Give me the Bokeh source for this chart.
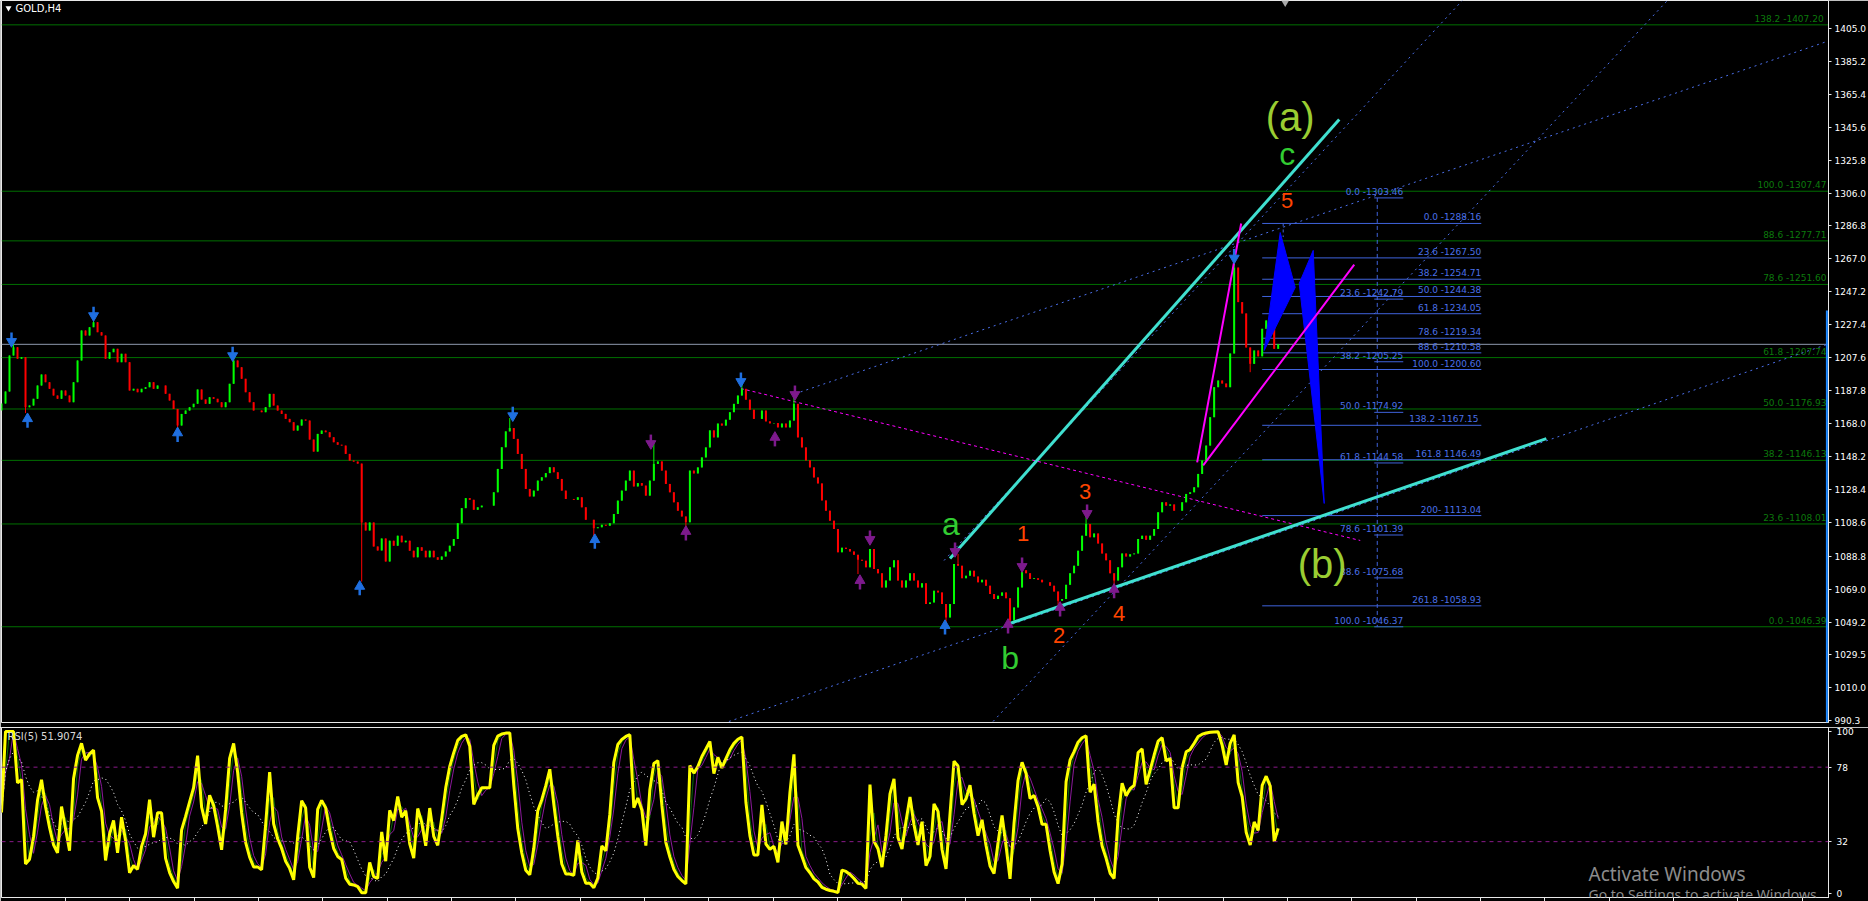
import numpy as np
import pandas as pd
from bokeh.plotting import figure
from bokeh.layouts import column
from bokeh.models import (Range1d, FixedTicker, Label, ColumnDataSource,
                          PrintfTickFormatter, CustomJSTickFormatter, Span)
from bokeh.core.properties import value
from bokeh.embed import file_html
from bokeh.resources import INLINE

# ---------------- data ----------------
symbol_title = "GOLD,H4"
rsi_title = "RSI(5) 51.9074"

# closes of the candles (one candle per 4 screen pixels)
closes = [
    1180.2, 1187.4, 1209.0, 1214.0, 1207.0, 1208.0, 1178.0, 1179.0, 1183.0, 1191.0,
    1197.6, 1193.0, 1189.0, 1185.0, 1183.0, 1188.0, 1185.0, 1181.0, 1193.0, 1206.0,
    1224.0, 1221.0, 1226.0, 1229.0, 1223.0, 1221.0, 1207.0, 1211.0, 1213.0, 1205.0,
    1210.0, 1205.0, 1188.0, 1189.0, 1187.0, 1189.0, 1190.0, 1193.0, 1189.0, 1191.0,
    1191.0, 1186.0, 1182.0, 1177.0, 1167.0, 1174.0, 1176.0, 1178.0, 1180.0, 1188.6,
    1182.6, 1180.0, 1184.0, 1183.0, 1181.0, 1178.0, 1181.0, 1192.0, 1206.0, 1202.0,
    1195.0, 1187.0, 1181.0, 1176.0, 1176.0, 1175.0, 1178.0, 1186.0, 1179.0, 1176.0,
    1174.0, 1171.0, 1169.0, 1164.0, 1167.0, 1170.6, 1170.0, 1158.6, 1151.4, 1162.0,
    1164.0, 1163.0, 1160.0, 1157.0, 1155.5, 1155.0, 1150.0, 1146.0, 1145.4, 1144.2,
    1108.9, 1104.1, 1108.9, 1094.5, 1092.1, 1099.3, 1085.5, 1098.0, 1095.0, 1101.0,
    1097.0, 1098.0, 1092.0, 1088.0, 1094.0, 1092.0, 1088.0, 1092.0, 1088.0, 1086.5,
    1088.5, 1091.5, 1095.0, 1099.0, 1108.5, 1117.5, 1123.5, 1122.5, 1116.5, 1118.0,
    1119.0, 1119.0, 1119.0, 1127.0, 1141.0, 1154.0, 1163.5, 1165.5, 1159.0, 1150.0,
    1141.0, 1129.0, 1124.5, 1128.0, 1134.0, 1136.0, 1138.5, 1142.0, 1139.0, 1135.0,
    1128.0, 1123.0, 1123.0, 1122.5, 1124.0, 1118.0, 1110.5, 1110.5, 1105.5, 1106.0,
    1107.5, 1107.0, 1108.5, 1114.0, 1122.0, 1128.0, 1134.0, 1140.0, 1130.5, 1132.5,
    1131.0, 1125.0, 1134.0, 1144.0, 1145.5, 1140.0, 1132.0, 1127.0, 1121.0, 1116.0,
    1112.5, 1109.0, 1140.0, 1138.3, 1141.9, 1147.9, 1153.9, 1164.1, 1159.9, 1168.2,
    1167.0, 1170.5, 1175.0, 1180.0, 1185.0, 1189.0, 1182.5, 1176.5, 1171.0, 1171.0,
    1176.0, 1169.5, 1168.3, 1168.5, 1165.9, 1168.2, 1165.9, 1170.0, 1180.0, 1159.9,
    1153.9, 1146.1, 1141.9, 1135.9, 1132.3, 1122.1, 1116.0, 1110.0, 1105.0, 1091.0,
    1093.8, 1093.0, 1091.5, 1089.5, 1086.5, 1086.0, 1082.0, 1093.0, 1081.0, 1078.4,
    1070.0, 1074.1, 1082.0, 1086.2, 1074.1, 1070.0, 1074.1, 1078.4, 1074.1, 1070.0,
    1072.4, 1060.0, 1061.0, 1068.0, 1067.0, 1060.0, 1052.0, 1060.0, 1084.0, 1083.0,
    1075.5, 1077.0, 1080.0, 1076.5, 1073.0, 1074.5, 1071.0, 1066.0, 1063.0, 1065.0,
    1067.0, 1063.5, 1050.2, 1058.0, 1070.0, 1080.2, 1078.5, 1075.0, 1075.5, 1074.5,
    1073.0, 1073.0, 1071.0, 1067.5, 1062.0, 1063.0, 1071.5, 1078.5, 1083.0, 1092.0,
    1101.0, 1108.0, 1100.0, 1102.3, 1096.3, 1090.3, 1086.2, 1078.4, 1074.1, 1082.0,
    1090.3, 1088.5, 1089.8, 1090.3, 1099.0, 1101.0, 1098.5, 1101.0, 1105.0, 1115.0,
    1121.0, 1119.0, 1119.7, 1116.0, 1116.0, 1121.0, 1126.0, 1127.0, 1130.0, 1138.0,
    1146.0, 1155.0, 1172.0, 1190.0, 1194.0, 1192.2, 1190.0, 1210.2, 1261.7, 1241.0,
    1234.2, 1213.8, 1204.0, 1212.0, 1208.5, 1225.0, 1230.0, 1228.2, 1213.0, 1215.7,
]
first_open = 1176.0
wick_high_idx = [3, 23, 58, 127, 163, 185, 198, 239, 255, 271, 308]
wick_high_val = [1216.5, 1232.0, 1209.0, 1171.5, 1158.0, 1192.5, 1186.0, 1090.0, 1084.0, 1113.0, 1266.0]
wick_low_idx = [6, 44, 90, 148, 171, 214, 236, 252, 264, 278, 312]
wick_low_val = [1174.5, 1165.5, 1073.5, 1100.5, 1106.0, 1078.0, 1048.0, 1046.4, 1059.5, 1071.0, 1199.0]

current_price = 1215.70
price_ticks = [990.3, 1010.0, 1029.5, 1049.2, 1069.0, 1088.8, 1108.6, 1128.4, 1148.2,
               1168.0, 1187.8, 1207.6, 1227.4, 1247.2, 1267.0, 1286.8, 1306.0, 1325.8,
               1345.6, 1365.4, 1385.2, 1405.0]
rsi_ticks = [0, 32, 78, 100]
rsi_levels = [32, 78]

# green Fibonacci retracement (1046.39 -> 1307.47)
green_fib_text = ["138.2  -1407.20", "100.0 -1307.47", "88.6 -1277.71", "78.6 -1251.60",
                  "61.8 -1207.74", "50.0 -1176.93", "38.2 -1146.13", "23.6 -1108.01",
                  "0.0 -1046.39"]
green_fib_price = [1407.20, 1307.47, 1277.71, 1251.60, 1207.74, 1176.93, 1146.13, 1108.01, 1046.39]

# blue Fibonacci #1 (1288.16 -> 1200.60)
blue1_text = ["0.0 -1288.16", "23.6 -1267.50", "38.2 -1254.71", "50.0 -1244.38",
              "61.8 -1234.05", "78.6 -1219.34", "88.6 -1210.58", "100.0 -1200.60",
              "138.2  -1167.15", "161.8 1146.49", "200- 1113.04", "261.8 -1058.93"]
blue1_price = [1288.16, 1267.50, 1254.71, 1244.38, 1234.05, 1219.34, 1210.58, 1200.60,
               1167.15, 1146.49, 1113.04, 1058.93]
blue1_span = [315.0, 369.75]

# blue Fibonacci #2 (1303.46 -> 1046.37)
blue2_text = ["0.0 -1303.46", "23.6 -1242.79", "38.2 -1205.25", "50.0 -1174.92",
              "61.8 -1144.58", "78.6 -1101.39", "88.6 -1075.68", "100.0 -1046.37"]
blue2_price = [1303.46, 1242.79, 1205.25, 1174.92, 1144.58, 1101.39, 1075.68, 1046.37]
blue2_span = [343.0, 350.25]
blue2_anchor_x = 343.75

# dotted blue trend / channel lines (candle index, price)
trend_x0 = [181.75, 198.25, 235.5, 247.75]
trend_p0 = [989.6, 1186.0, 1086.1, 989.6]
trend_x1 = [459.0, 459.0, 365.0, 416.25]
trend_p1 = [1218.0, 1399.6, 1421.8, 1421.8]

# magenta dashed line
mdash_x = [184.75, 339.5]
mdash_p = [1189.2, 1098.1]

# cyan solid lines
cyan_x0 = [237.0, 252.0]
cyan_p0 = [1087.3, 1048.4]
cyan_x1 = [334.25, 386.0]
cyan_p1 = [1350.4, 1159.2]

# magenta solid lines
mag_x0 = [298.75, 300.25]
mag_p0 = [1144.9, 1143.1]
mag_x1 = [309.75, 338.0]
mag_p1 = [1288.1, 1263.5]

# blue projection shapes
proj_xs = [[315.5, 319.5, 323.25], [324.25, 327.75, 330.5]]
proj_ps = [[1212.0, 1282.7, 1249.8], [1252.2, 1272.0, 1120.3]]

# fractal arrows: tip position, direction, colour
arrow_x = [2.5, 23.0, 57.75, 127.75, 184.75, 308.0,
           6.5, 44.0, 89.5, 148.25, 235.75,
           162.25, 198.25, 217.0, 238.25, 255.0, 271.25,
           171.0, 193.25, 214.5, 251.5, 264.5, 278.0]
arrow_p = [1215.0, 1230.5, 1206.5, 1170.5, 1191.0, 1265.0,
           1173.5, 1165.0, 1073.0, 1101.0, 1049.5,
           1153.8, 1183.2, 1096.3, 1089.1, 1080.1, 1111.9,
           1105.9, 1162.3, 1076.5, 1050.2, 1060.4, 1071.2]
arrow_down = [True] * 6 + [False] * 5 + [True] * 6 + [False] * 6
arrow_color = ["#1f6fe0"] * 11 + ["#7d1a8c"] * 12

# wave labels
wave_text = ["(a)", "c", "5", "a", "b", "1", "2", "3", "4", "(b)"]
wave_x = [322.0, 321.25, 321.25, 237.25, 252.0, 255.25, 264.25, 270.75, 279.25, 330.0]
wave_p = [1352.2, 1330.0, 1301.9, 1108.0, 1027.5, 1102.3, 1041.2, 1127.5, 1054.4, 1084.3]
wave_color = ["#9acd32", "#32cd32", "#ff4500", "#32cd32", "#32cd32",
              "#ff4500", "#ff4500", "#ff4500", "#ff4500", "#9acd32"]
wave_size = ["40px", "32px", "22px", "32px", "32px", "22px", "22px", "22px", "22px", "40px"]

# ---------------- build series ----------------
n = len(closes)
idx = np.arange(n, dtype=float)
c = np.array(closes)
o = np.concatenate([[first_open], c[:-1]])
hi = np.maximum(o, c)
lo = np.minimum(o, c)
for i, v in zip(wick_high_idx, wick_high_val):
    hi[i] = max(hi[i], v)
for i, v in zip(wick_low_idx, wick_low_val):
    lo[i] = min(lo[i], v)
bull = c >= o
col = np.where(bull, "#00ff00", "#ff0000")


def wilder_rsi(values, period):
    s = pd.Series(values)
    d = s.diff().fillna(0.0)
    g = d.clip(lower=0).ewm(alpha=1.0 / period, adjust=False).mean()
    l = (-d).clip(lower=0).ewm(alpha=1.0 / period, adjust=False).mean()
    return (100 * g / (g + l)).fillna(50.0)


rsi = wilder_rsi(c, 3)
rsi_g = rsi.rolling(2, min_periods=1).mean()
rsi_p = rsi.rolling(3, min_periods=1).mean()
rsi_ma = rsi.rolling(9, min_periods=1).mean()

X_END = 456.5
P_MIN, P_MAX = 989.0, 1421.8
W = 1868
PLOT_H_MAIN = 722
MAIN_GAP = 5
H_MAIN = PLOT_H_MAIN + MAIN_GAP
H_RSI = 174
RB = 40
FONT = "DejaVu Sans"
R_MIN, R_MAX = -2.5, 102.5
RSI_PX = 169.0  # approximate frame height of the RSI panel

# ---------------- main price panel ----------------
p = figure(width=W, height=H_MAIN, x_range=Range1d(0, X_END), y_range=Range1d(P_MIN, P_MAX),
           output_backend="svg", toolbar_location=None, x_axis_location=None,
           y_axis_location="right", background_fill_color="black",
           border_fill_color="black", min_border_left=1, min_border_right=RB,
           min_border_top=0, min_border_bottom=MAIN_GAP)
p.grid.visible = False
p.outline_line_color = "#e8e8e8"
p.outline_line_width = 1

ya = p.yaxis[0]
ya.ticker = FixedTicker(ticks=price_ticks)
ya.formatter = PrintfTickFormatter(format="%.1f")
ya.axis_line_color = "#e8e8e8"
ya.major_tick_line_color = "#e8e8e8"
ya.major_tick_out = 3
ya.major_tick_in = 0
ya.minor_tick_line_color = None
ya.major_label_text_color = "white"
ya.major_label_text_font = FONT
ya.major_label_text_font_size = "9px"
ya.major_label_standoff = 3

# green fib levels
ng = len(green_fib_price)
gsrc = ColumnDataSource(dict(x0=[0.0] * ng, x1=[X_END] * ng, y=green_fib_price, t=green_fib_text))
p.segment(x0="x0", y0="y", x1="x1", y1="y", source=gsrc, line_color="#007000", line_width=1)
p.text(x="x1", y="y", text="t", source=gsrc, text_align="right", text_baseline="bottom",
       x_offset=-2, y_offset=-1, text_color="#0c7a0c", text_font=value(FONT), text_font_size="9px")

# current price line
p.segment(x0=[0.0], y0=[current_price], x1=[X_END], y1=[current_price], line_color="#8f9aae", line_width=1)

# blue fib #1
b1 = ColumnDataSource(dict(x0=[blue1_span[0]] * len(blue1_price), x1=[blue1_span[1]] * len(blue1_price),
                           y=blue1_price, t=blue1_text))
p.segment(x0="x0", y0="y", x1="x1", y1="y", source=b1, line_color="#3f63dc", line_width=1)
p.text(x="x1", y="y", text="t", source=b1, text_align="right", text_baseline="bottom",
       y_offset=-1, text_color="#4a70e8", text_font=value(FONT), text_font_size="9px")
p.segment(x0=[320.25], y0=[blue1_price[0]], x1=[320.25], y1=[1280.0], line_color="#3f63dc", line_dash="3 3")

# blue fib #2
b2 = ColumnDataSource(dict(x0=[blue2_span[0]] * len(blue2_price), x1=[blue2_span[1]] * len(blue2_price),
                           y=blue2_price, t=blue2_text))
p.segment(x0="x0", y0="y", x1="x1", y1="y", source=b2, line_color="#3f63dc", line_width=1)
p.text(x="x1", y="y", text="t", source=b2, text_align="right", text_baseline="bottom",
       y_offset=-1, text_color="#4a70e8", text_font=value(FONT), text_font_size="9px")
p.segment(x0=[blue2_anchor_x], y0=[blue2_price[0]], x1=[blue2_anchor_x], y1=[blue2_price[-1]],
          line_color="#3f63dc", line_dash="4 3", line_width=1)

# dotted trend lines
p.segment(x0=trend_x0, y0=trend_p0, x1=trend_x1, y1=trend_p1, line_color="#4a6ee8",
          line_dash="2 4", line_width=1)
# magenta dashed
p.line(x=mdash_x, y=mdash_p, line_color="#ff00ff", line_dash="3 3", line_width=1)

# candles
csrc = ColumnDataSource(dict(x=idx, o=o, c=c, hi=hi, lo=lo, top=np.maximum(o, c),
                             bot=np.minimum(o, c), col=col))
p.segment(x0="x", y0="lo", x1="x", y1="hi", source=csrc, line_color="col", line_width=1)
p.vbar(x="x", width=0.5, top="top", bottom="bot", source=csrc, fill_color="col", line_color=None)

# projection shapes
p.patches(xs=proj_xs, ys=proj_ps, fill_color="#0000ff", line_color="#0000ff", line_width=1)

# cyan & magenta solid lines
p.segment(x0=cyan_x0, y0=cyan_p0, x1=cyan_x1, y1=cyan_p1, line_color="#40e0d0", line_width=3)
p.segment(x0=mag_x0, y0=mag_p0, x1=mag_x1, y1=mag_p1, line_color="#ff00ff", line_width=2)

# fractal arrows
ppx = PLOT_H_MAIN / (P_MAX - P_MIN)  # pixels per price unit
ax = np.array(arrow_x)
ap = np.array(arrow_p)
sgn = np.where(np.array(arrow_down), 1.0, -1.0)
head = ap + sgn * 4.0 / ppx
tail0 = ap + sgn * 6.0 / ppx
tail1 = ap + sgn * 13.0 / ppx
p.segment(x0=ax, y0=tail0, x1=ax, y1=tail1, line_color=arrow_color, line_width=2.5)
p.scatter(x=ax, y=head, marker=np.where(np.array(arrow_down), "inverted_triangle", "triangle").tolist(),
          size=10, fill_color=arrow_color, line_color=arrow_color)

# wave labels
wsrc = ColumnDataSource(dict(x=wave_x, y=wave_p, t=wave_text, c=wave_color, s=wave_size))
p.text(x="x", y="y", text="t", source=wsrc, text_color="c", text_font_size="s",
       text_align="center", text_baseline="middle", text_font=value("Liberation Sans"))

# blue bar at the right edge and chart-shift marker
p.segment(x0=[X_END - 0.4], y0=[P_MIN], x1=[X_END - 0.4], y1=[1236.0], line_color="#1e88ff", line_width=2)
p.scatter(x=[320.75], y=[P_MAX - 1.2], marker="inverted_triangle", size=8, fill_color="#a8a8a8", line_color=None)
p.scatter(x=[1.75], y=[P_MAX - 7.5 / ppx], marker="inverted_triangle", size=6, fill_color="white", line_color=None)

p.add_layout(Label(x=14, y=P_MAX - 7.5 / ppx, x_units="screen", y_units="data", text=symbol_title,
                   text_color="white", text_font=FONT, text_font_size="10px", text_baseline="middle"))

# ---------------- RSI panel ----------------
r = figure(width=W, height=H_RSI, x_range=p.x_range, y_range=Range1d(R_MIN, R_MAX),
           output_backend="svg", toolbar_location=None, y_axis_location="right",
           x_axis_location="below", background_fill_color="black", border_fill_color="black",
           min_border_left=1, min_border_right=RB, min_border_top=0, min_border_bottom=0)
r.grid.visible = False
r.outline_line_color = "#e8e8e8"
ry = r.yaxis[0]
ry.ticker = FixedTicker(ticks=rsi_ticks)
ry.axis_line_color = "#e8e8e8"
ry.major_tick_line_color = "#e8e8e8"
ry.major_tick_out = 3
ry.major_tick_in = 0
ry.minor_tick_line_color = None
ry.major_label_text_color = "white"
ry.major_label_text_font = FONT
ry.major_label_text_font_size = "9px"
rx = r.xaxis[0]
rx.ticker = FixedTicker(ticks=[16.0 + 16.07 * k for k in range(29)])
rx.formatter = CustomJSTickFormatter(code="return ''")
rx.axis_line_color = "#e8e8e8"
rx.major_tick_line_color = "#e8e8e8"
rx.major_tick_out = 4
rx.major_tick_in = 0
rx.minor_tick_line_color = None
rx.major_label_text_font_size = "1px"
rx.major_label_standoff = 0

for lv in rsi_levels:
    r.add_layout(Span(location=lv, dimension="width", line_color="#8a1a8a", line_dash="4 4", line_width=1))

r.line(idx, rsi_g, line_color="#0a6a0a", line_width=1)
r.line(idx, rsi_p, line_color="#8a1a9a", line_width=1)
r.line(idx, rsi_ma, line_color="white", line_dash="1 3", line_width=1)
r.line(idx, rsi, line_color="#ffff00", line_width=3)

rpu = (R_MAX - R_MIN) / RSI_PX  # rsi units per pixel
r.add_layout(Label(x=6, y=R_MAX - 8.5 * rpu, x_units="screen", y_units="data", text=rsi_title,
                   text_color="#d8d8d8", text_font=FONT, text_font_size="10px", text_baseline="middle"))
r.add_layout(Label(x=1587, y=R_MAX - 146 * rpu, x_units="screen", y_units="data", text="Activate Windows",
                   text_color="#8c8c8c", text_font="Noto Sans", text_font_size="19px",
                   text_baseline="middle"))
r.add_layout(Label(x=1587, y=R_MAX - 166 * rpu, x_units="screen", y_units="data",
                   text="Go to Settings to activate Windows.",
                   text_color="#8c8c8c", text_font="Noto Sans", text_font_size="14px",
                   text_baseline="middle"))

layout = column(p, r, spacing=0)
open("out.html", "w").write(file_html(layout, INLINE))
